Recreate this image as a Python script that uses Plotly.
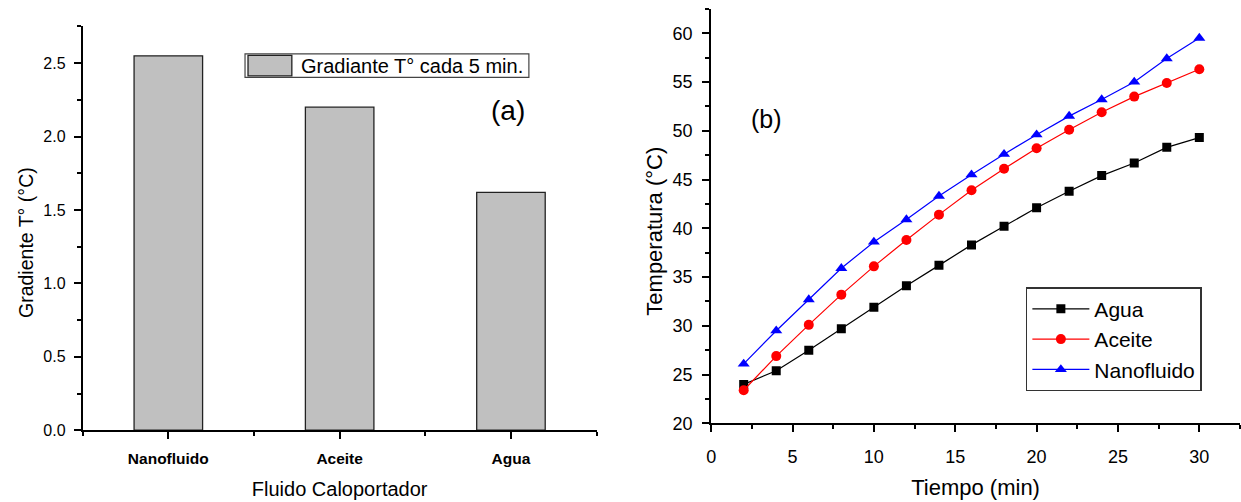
import plotly.graph_objects as go

# Panel (a): temperature gradient per 5 minutes for each heat-transfer fluid
fluidos = ["Nanofluido", "Aceite", "Agua"]
gradiente = [2.55, 2.20, 1.62]
etiqueta_barras = "Gradiante T° cada 5 min."

# Panel (b): temperature vs time
tiempo = [2, 4, 6, 8, 10, 12, 14, 16, 18, 20, 22, 24, 26, 28, 30]
temp_agua = [24.0, 25.4, 27.5, 29.7, 31.9, 34.1, 36.2, 38.3, 40.2, 42.1, 43.8, 45.4, 46.7, 48.3, 49.3]
temp_aceite = [23.4, 26.9, 30.1, 33.2, 36.1, 38.8, 41.4, 43.9, 46.1, 48.2, 50.1, 51.9, 53.5, 54.9, 56.3]
temp_nano = [26.1, 29.5, 32.7, 35.9, 38.6, 40.9, 43.3, 45.5, 47.6, 49.6, 51.5, 53.2, 55.0, 57.4, 59.5]

W, H = 1241, 502
FONT = "Arial, Liberation Sans, sans-serif"
GRIS = "#c0c0c0"
BORDE = "#222222"

posiciones = list(range(len(fluidos)))

fig = go.Figure()

fig.add_trace(go.Bar(
    x=posiciones, y=gradiente, width=0.4,
    name=etiqueta_barras, showlegend=False,
    marker=dict(color=GRIS, line=dict(color=BORDE, width=1.3)),
    xaxis="x", yaxis="y",
))

series = [
    ("Agua", temp_agua, "black", "square", 9),
    ("Aceite", temp_aceite, "red", "circle", 10),
    ("Nanofluido", temp_nano, "blue", "triangle-up", 10.5),
]
for nombre, vals, color, simb, tam in series:
    fig.add_trace(go.Scatter(
        x=tiempo, y=vals, name=nombre, mode="lines+markers",
        line=dict(color=color, width=1.2),
        marker=dict(symbol=simb, size=tam, color=color),
        xaxis="x2", yaxis="y2", legend="legend2", showlegend=True,
    ))

eje = dict(
    showline=True, linecolor="black", linewidth=1.8, mirror=False,
    ticks="outside", ticklen=7, tickwidth=1.5, tickcolor="black",
    showgrid=False, zeroline=False,
)
menor = dict(ticks="outside", ticklen=4, tickwidth=1.5, tickcolor="black")


def px(x):
    return x / W


def py(y):
    return 1 - y / H


# Legend box for the bar panel
shapes = [
    dict(type="rect", xref="paper", yref="paper",
         x0=px(241), x1=px(526), y0=py(79), y1=py(55),
         line=dict(color="#444444", width=1.2), fillcolor="white", layer="above"),
    dict(type="rect", xref="paper", yref="paper",
         x0=px(244), x1=px(288), y0=py(77.5), y1=py(56.5),
         line=dict(color=BORDE, width=1.3), fillcolor=GRIS, layer="above"),
]


def texto(t, x, y, size, angle=0, xanchor="center"):
    return dict(text=t, x=px(x), y=py(y), xref="paper", yref="paper",
                xanchor=xanchor, yanchor="middle", textangle=angle,
                showarrow=False, font=dict(size=size))


fig.update_layout(
    width=W, height=H,
    margin=dict(l=0, r=0, t=0, b=0),
    paper_bgcolor="white", plot_bgcolor="white",
    font=dict(family=FONT, color="black"),
    showlegend=True,
    xaxis=dict(
        **eje, domain=[px(78), px(594)], anchor="y",
        range=[-0.5, 2.5], tickvals=posiciones, ticktext=fluidos,
        tickfont=dict(size=15.5, family=FONT, weight="bold"),
        ticklabelstandoff=6,
        minor=dict(**menor, tick0=-0.5, dtick=1),
        title=dict(text="Fluido Caloportador", font=dict(size=20), standoff=16),
    ),
    yaxis=dict(
        **eje, domain=[py(439), py(27)], anchor="x",
        range=[0, 2.75], dtick=0.5, tickformat=".1f", tickfont=dict(size=16),
        ticklabelstandoff=5,
        minor=dict(**menor, dtick=0.25),
    ),
    xaxis2=dict(
        **eje, domain=[px(709), px(1240)], anchor="y2",
        range=[0, 32.5], dtick=5, tickfont=dict(size=18),
        ticklabelstandoff=9,
        minor=dict(**menor, dtick=2.5),
        title=dict(text="Tiempo (min)", font=dict(size=22), standoff=14),
    ),
    yaxis2=dict(
        **eje, domain=[py(432), py(9)], anchor="x2",
        range=[20, 62.5], dtick=5, tickfont=dict(size=18),
        ticklabelstandoff=6,
        minor=dict(**menor, dtick=2.5),
    ),
    legend2=dict(
        x=px(1025), y=py(293), xanchor="left", yanchor="top",
        bgcolor="white", bordercolor="#333333", borderwidth=1.5,
        font=dict(size=21), itemwidth=57,
    ),
    shapes=shapes,
    annotations=[
        texto("Gradiente T° (°C)", 21, 247, 19.5, angle=-90),
        texto("Temperatura (°C)", 652, 236, 22, angle=-90),
        texto(etiqueta_barras, 295, 67, 20, xanchor="left"),
        texto("(a)", 505, 113, 28),
        texto("(b)", 765, 121, 25),
    ],
)

fig.write_html("out.html")
